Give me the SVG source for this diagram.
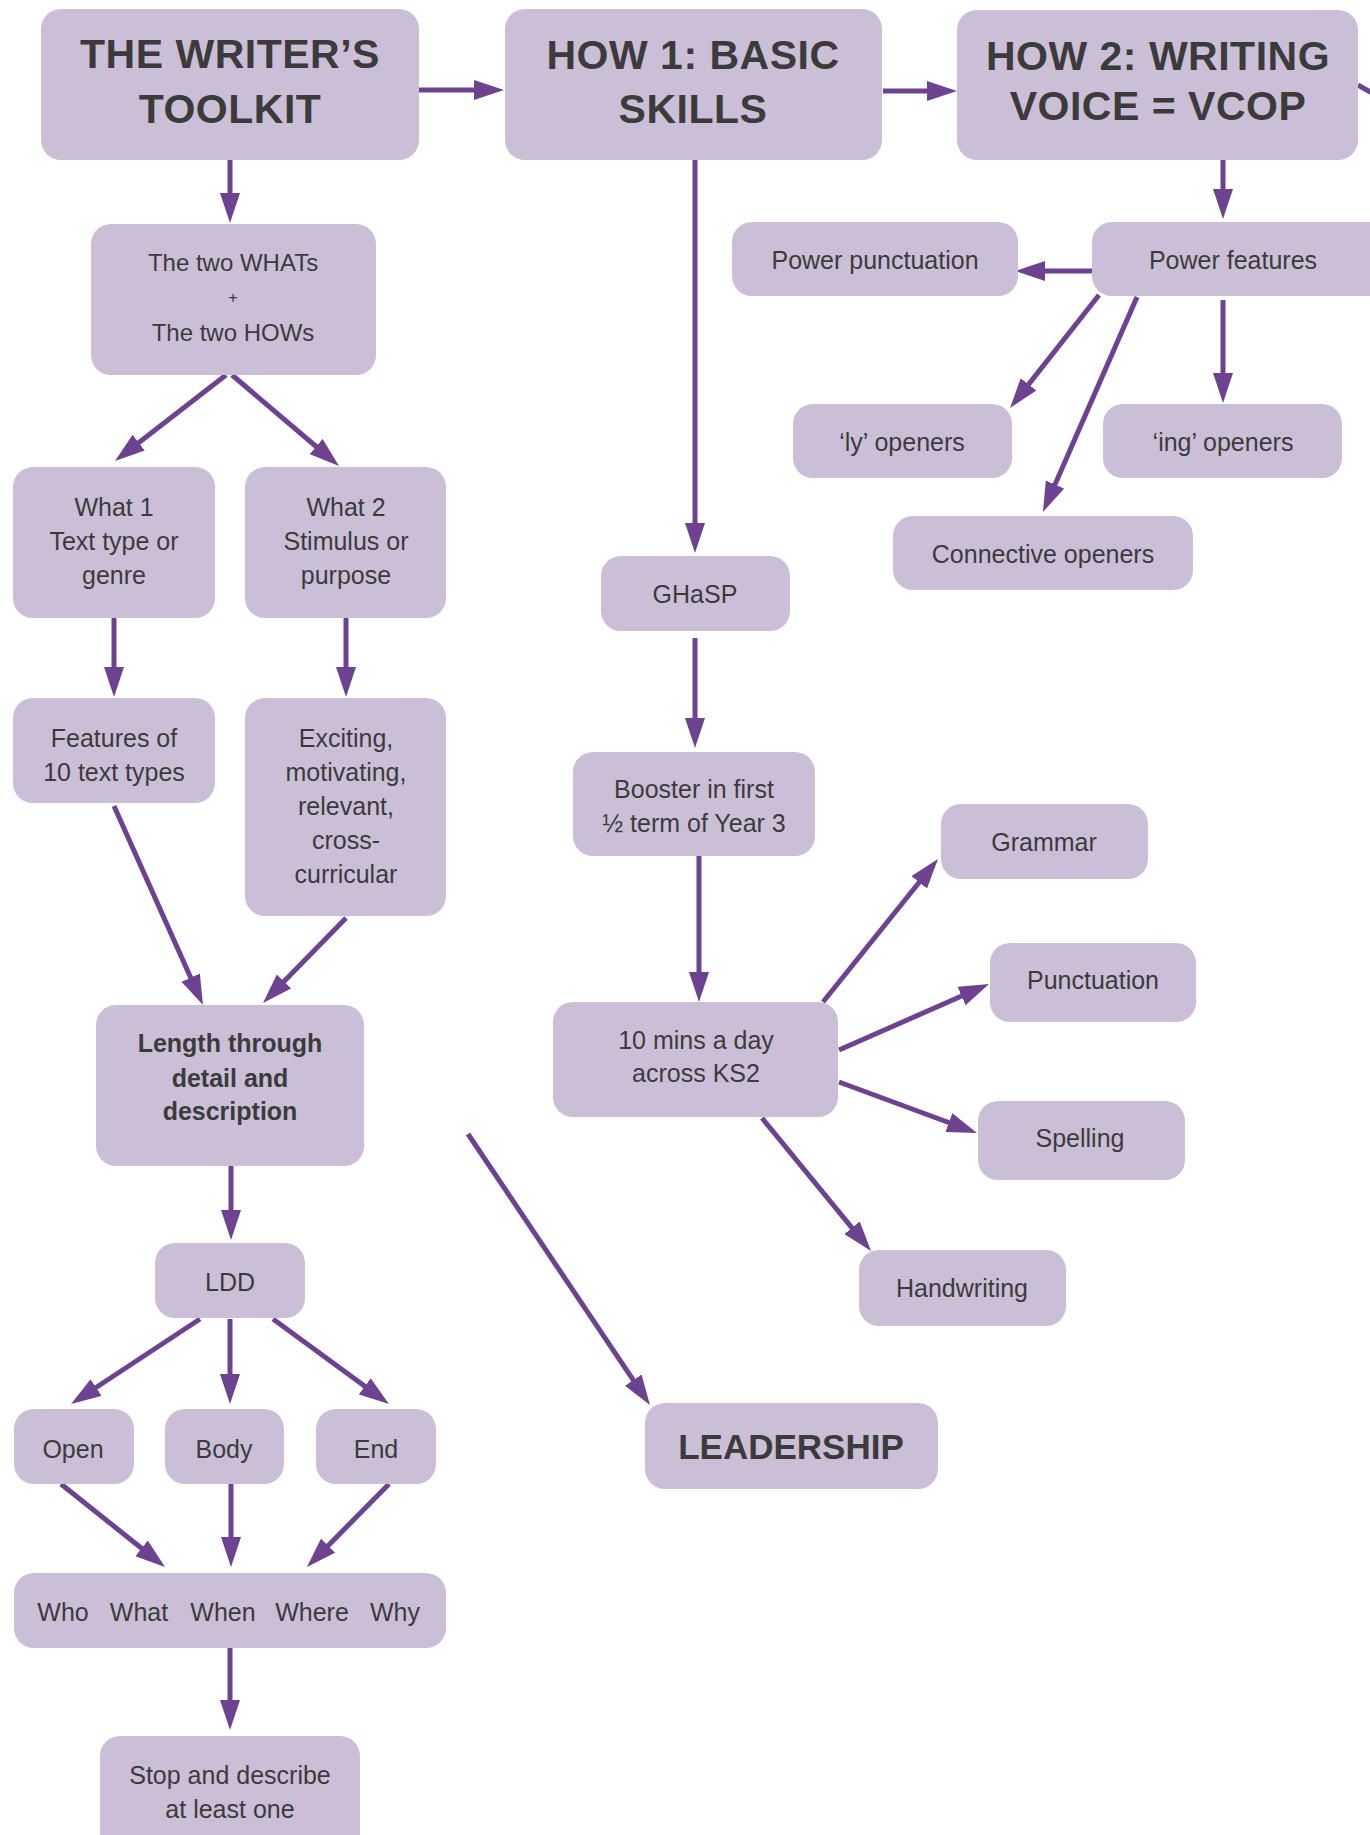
<svg xmlns="http://www.w3.org/2000/svg" width="1370" height="1835" viewBox="0 0 1370 1835">
  <defs>
    <marker id="arrow" viewBox="0 0 6 4" refX="4" refY="2" markerWidth="6" markerHeight="4" orient="auto" markerUnits="strokeWidth">
      <path d="M0,0 L6,2 L0,4 Z" fill="#6D4290"/>
    </marker>
    <style>
      .box { fill: #CBBFD8; }
      .title { font-family: "Liberation Sans", Arial, sans-serif; font-weight: bold; font-size: 41px; fill: #3B3B3B; text-anchor: middle; letter-spacing: 0.5px; }
      .lbl { font-family: "Liberation Sans", Arial, sans-serif; font-size: 25px; fill: #3B3B3B; text-anchor: middle; }
      .bold { font-weight: bold; }
      .big { font-family: "Liberation Sans", Arial, sans-serif; font-weight: bold; font-size: 35px; fill: #3B3B3B; text-anchor: middle; }
      .conn line { stroke: #6D4290; stroke-width: 5; fill: none; }
    </style>
  </defs>
  <rect width="1370" height="1835" fill="#FFFFFF"/>

  <!-- connectors -->
  <g id="connectors" class="conn">
    <line x1="419" y1="90" x2="494" y2="90" marker-end="url(#arrow)"/>
    <line x1="883" y1="91" x2="947" y2="91" marker-end="url(#arrow)"/>
    <line x1="1358" y1="85" x2="1372" y2="93"/>
    <line x1="230" y1="160" x2="230" y2="213" marker-end="url(#arrow)"/>
    <line x1="226" y1="375" x2="122.9" y2="454.9" marker-end="url(#arrow)"/>
    <line x1="232" y1="375" x2="331.4" y2="459.5" marker-end="url(#arrow)"/>
    <line x1="114" y1="618" x2="114" y2="687" marker-end="url(#arrow)"/>
    <line x1="346" y1="618" x2="346" y2="687" marker-end="url(#arrow)"/>
    <line x1="114" y1="806" x2="198.9" y2="995.9" marker-end="url(#arrow)"/>
    <line x1="346" y1="918" x2="270" y2="995.8" marker-end="url(#arrow)"/>
    <line x1="468" y1="1134" x2="644.4" y2="1396.7" marker-end="url(#arrow)"/>
    <line x1="231" y1="1166" x2="231" y2="1230" marker-end="url(#arrow)"/>
    <line x1="200" y1="1319" x2="79.4" y2="1398.5" marker-end="url(#arrow)"/>
    <line x1="230" y1="1319" x2="230" y2="1394" marker-end="url(#arrow)"/>
    <line x1="273" y1="1319" x2="380.9" y2="1398.1" marker-end="url(#arrow)"/>
    <line x1="61" y1="1484" x2="157.2" y2="1560.8" marker-end="url(#arrow)"/>
    <line x1="231" y1="1484" x2="231" y2="1557" marker-end="url(#arrow)"/>
    <line x1="389" y1="1484" x2="314" y2="1559.9" marker-end="url(#arrow)"/>
    <line x1="230" y1="1648" x2="230" y2="1720" marker-end="url(#arrow)"/>
    <line x1="695" y1="160" x2="695" y2="543" marker-end="url(#arrow)"/>
    <line x1="695" y1="638" x2="695" y2="738" marker-end="url(#arrow)"/>
    <line x1="699" y1="856" x2="699" y2="992" marker-end="url(#arrow)"/>
    <line x1="823" y1="1002" x2="931.7" y2="866.8" marker-end="url(#arrow)"/>
    <line x1="839" y1="1050" x2="979.9" y2="988" marker-end="url(#arrow)"/>
    <line x1="839" y1="1082" x2="967.6" y2="1129.5" marker-end="url(#arrow)"/>
    <line x1="762" y1="1118" x2="864.7" y2="1243.3" marker-end="url(#arrow)"/>
    <line x1="1223" y1="160" x2="1223" y2="209" marker-end="url(#arrow)"/>
    <line x1="1092" y1="271" x2="1025" y2="271" marker-end="url(#arrow)"/>
    <line x1="1099" y1="295" x2="1016.2" y2="400.1" marker-end="url(#arrow)"/>
    <line x1="1137" y1="297" x2="1047" y2="502.8" marker-end="url(#arrow)"/>
    <line x1="1223" y1="300" x2="1223" y2="393" marker-end="url(#arrow)"/>
  </g>

  <!-- top row -->
  <g id="toolkit">
    <rect class="box" x="41" y="9" width="378" height="151" rx="20"/>
    <text class="title" x="230" y="68">THE WRITER’S</text>
    <text class="title" x="230" y="123">TOOLKIT</text>
  </g>
  <g id="how1">
    <rect class="box" x="505" y="9" width="377" height="151" rx="20"/>
    <text class="title" x="693" y="69">HOW 1: BASIC</text>
    <text class="title" x="693" y="123">SKILLS</text>
  </g>
  <g id="how2">
    <rect class="box" x="957" y="10" width="401" height="150" rx="20"/>
    <text class="title" x="1158" y="70">HOW 2: WRITING</text>
    <text class="title" x="1158" y="120">VOICE = VCOP</text>
  </g>

  <!-- left column: the WHATs -->
  <g id="whats-hows">
    <rect class="box" x="91" y="224" width="285" height="151" rx="20"/>
    <text class="lbl" x="233" y="271" style="font-size:24px">The two WHATs</text>
    <text class="lbl" x="233" y="303" style="font-size:16px">+</text>
    <text class="lbl" x="233" y="341" style="font-size:24px">The two HOWs</text>
  </g>
  <g id="what1">
    <rect class="box" x="13" y="467" width="202" height="151" rx="20"/>
    <text class="lbl" x="114" y="516">What 1</text>
    <text class="lbl" x="114" y="550">Text type or</text>
    <text class="lbl" x="114" y="584">genre</text>
  </g>
  <g id="what2">
    <rect class="box" x="245" y="467" width="201" height="151" rx="20"/>
    <text class="lbl" x="346" y="516">What 2</text>
    <text class="lbl" x="346" y="550">Stimulus or</text>
    <text class="lbl" x="346" y="584">purpose</text>
  </g>
  <g id="features">
    <rect class="box" x="13" y="698" width="202" height="105" rx="20"/>
    <text class="lbl" x="114" y="747">Features of</text>
    <text class="lbl" x="114" y="781">10 text types</text>
  </g>
  <g id="exciting">
    <rect class="box" x="245" y="698" width="201" height="218" rx="20"/>
    <text class="lbl" x="346" y="747">Exciting,</text>
    <text class="lbl" x="346" y="781">motivating,</text>
    <text class="lbl" x="346" y="815">relevant,</text>
    <text class="lbl" x="346" y="849">cross-</text>
    <text class="lbl" x="346" y="883">curricular</text>
  </g>
  <g id="length">
    <rect class="box" x="96" y="1005" width="268" height="161" rx="20"/>
    <text class="lbl bold" x="230" y="1052">Length through</text>
    <text class="lbl bold" x="230" y="1087">detail and</text>
    <text class="lbl bold" x="230" y="1120">description</text>
  </g>
  <g id="ldd">
    <rect class="box" x="155" y="1243" width="150" height="75" rx="20"/>
    <text class="lbl" x="230" y="1291">LDD</text>
  </g>
  <g id="open">
    <rect class="box" x="14" y="1409" width="120" height="75" rx="20"/>
    <text class="lbl" x="73" y="1458">Open</text>
  </g>
  <g id="body">
    <rect class="box" x="165" y="1409" width="119" height="75" rx="20"/>
    <text class="lbl" x="224" y="1458">Body</text>
  </g>
  <g id="end">
    <rect class="box" x="316" y="1409" width="120" height="75" rx="20"/>
    <text class="lbl" x="376" y="1458">End</text>
  </g>
  <g id="five-ws">
    <rect class="box" x="14" y="1573" width="432" height="75" rx="20"/>
    <text class="lbl" y="1621"><tspan x="63">Who</tspan><tspan x="139">What</tspan><tspan x="223">When</tspan><tspan x="312">Where</tspan><tspan x="395">Why</tspan></text>
  </g>
  <g id="stop">
    <rect class="box" x="100" y="1736" width="260" height="130" rx="20"/>
    <text class="lbl" x="230" y="1784">Stop and describe</text>
    <text class="lbl" x="230" y="1818">at least one</text>
  </g>
  <g id="leadership">
    <rect class="box" x="645" y="1403" width="293" height="86" rx="20"/>
    <text class="big" x="791" y="1459">LEADERSHIP</text>
  </g>

  <!-- middle column: basic skills -->
  <g id="ghasp">
    <rect class="box" x="601" y="556" width="189" height="75" rx="20"/>
    <text class="lbl" x="695" y="603">GHaSP</text>
  </g>
  <g id="booster">
    <rect class="box" x="573" y="752" width="242" height="104" rx="20"/>
    <text class="lbl" x="694" y="798">Booster in first</text>
    <text class="lbl" x="694" y="832">½ term of Year 3</text>
  </g>
  <g id="ten-mins">
    <rect class="box" x="553" y="1002" width="285" height="115" rx="20"/>
    <text class="lbl" x="696" y="1049">10 mins a day</text>
    <text class="lbl" x="696" y="1082">across KS2</text>
  </g>
  <g id="grammar">
    <rect class="box" x="941" y="804" width="207" height="75" rx="20"/>
    <text class="lbl" x="1044" y="851">Grammar</text>
  </g>
  <g id="punctuation">
    <rect class="box" x="990" y="943" width="206" height="79" rx="20"/>
    <text class="lbl" x="1093" y="989">Punctuation</text>
  </g>
  <g id="spelling">
    <rect class="box" x="978" y="1101" width="207" height="79" rx="20"/>
    <text class="lbl" x="1080" y="1147">Spelling</text>
  </g>
  <g id="handwriting">
    <rect class="box" x="859" y="1250" width="207" height="76" rx="20"/>
    <text class="lbl" x="962" y="1297">Handwriting</text>
  </g>

  <!-- right column: VCOP -->
  <g id="power-features">
    <rect class="box" x="1092" y="222" width="300" height="74" rx="20"/>
    <text class="lbl" x="1233" y="269">Power features</text>
  </g>
  <g id="power-punctuation">
    <rect class="box" x="732" y="222" width="286" height="74" rx="20"/>
    <text class="lbl" x="875" y="269">Power punctuation</text>
  </g>
  <g id="ly-openers">
    <rect class="box" x="793" y="404" width="219" height="74" rx="20"/>
    <text class="lbl" x="902" y="451">‘ly’ openers</text>
  </g>
  <g id="ing-openers">
    <rect class="box" x="1103" y="404" width="239" height="74" rx="20"/>
    <text class="lbl" x="1223" y="451">‘ing’ openers</text>
  </g>
  <g id="connective-openers">
    <rect class="box" x="893" y="516" width="300" height="74" rx="20"/>
    <text class="lbl" x="1043" y="563">Connective openers</text>
  </g>
</svg>
